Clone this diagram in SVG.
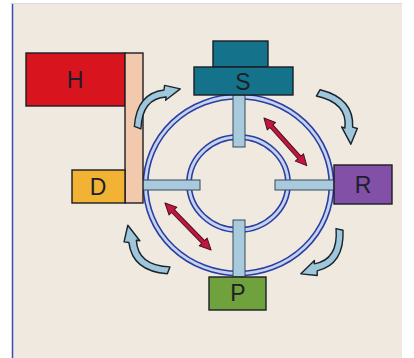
<svg xmlns="http://www.w3.org/2000/svg" xmlns:xlink="http://www.w3.org/1999/xlink" width="414" height="358" viewBox="0 0 414 358">
  <style>
    .box { stroke: #1c1c24; stroke-width: 1.4; }
    .lbl { font-family: "Liberation Sans", Arial, sans-serif; font-size: 23px; fill: #1e1e2a; text-anchor: middle; }
    .bar { fill: #a9cadc; stroke: #33485a; stroke-width: 1; }
    .ringDark { fill: none; stroke: #2c3ea0; stroke-width: 6; }
    .ringLight { fill: none; stroke: #c4d4f0; stroke-width: 2.8; }
    .turn { fill: #9fc6da; stroke: #18242e; stroke-width: 1.5; stroke-linejoin: round; }
    .push { fill: #c3163e; stroke: #4a1020; stroke-width: 1; stroke-linejoin: round; }
  </style>
  <defs>
    <!-- curved flow arrow: tail at origin, tip at (64,0), bowing toward -y -->
    <path id="turnArrow" class="turn" d="M 0,-4 Q 28,-27 51,-8 L 55,-11 L 64,4 L 44,1 L 47,-1 Q 28,-19 3,3 Z"/>
    <!-- straight double-headed arrow along +x -->
    <path id="pushArrow" class="push" d="M 0,0 L 11,-5.5 L 11,-2 L 53,-2 L 53,-5.5 L 64,0 L 53,5.5 L 53,2 L 11,2 L 11,5.5 Z"/>
  </defs>

  <!-- backdrop -->
  <rect x="0" y="0" width="414" height="358" fill="#ffffff"/>
  <rect x="12" y="3" width="390" height="355" fill="#efe9df"/>
  <line x1="12.5" y1="3" x2="12.5" y2="358" stroke="#3a4cb8" stroke-width="1.5"/>
  <line x1="12" y1="3.5" x2="402" y2="3.5" stroke="#d8d8e4" stroke-width="1"/>

  <!-- rings -->
  <g id="rings">
    <ellipse cx="238.5" cy="185" rx="93" ry="88.5" class="ringDark"/>
    <ellipse cx="238.5" cy="185" rx="93" ry="88.5" class="ringLight"/>
    <ellipse cx="238.5" cy="183.5" rx="49.5" ry="46.5" class="ringDark"/>
    <ellipse cx="238.5" cy="183.5" rx="49.5" ry="46.5" class="ringLight"/>
  </g>

  <!-- spokes -->
  <g id="spokes">
    <rect class="bar" x="233" y="95" width="12" height="52"/>
    <rect class="bar" x="233" y="220" width="12" height="57"/>
    <rect class="bar" x="141" y="180" width="59" height="10"/>
    <rect class="bar" x="275" y="180" width="59" height="10"/>
  </g>

  <g id="node-H">
    <rect class="box" x="26" y="53" width="99" height="53" fill="#d8141e"/>
    <text class="lbl" x="75" y="88">H</text>
  </g>
  <g id="node-column">
    <rect class="box" x="125" y="53" width="18" height="150" fill="#f2c9ad"/>
  </g>
  <g id="node-D">
    <rect class="box" x="72" y="170" width="53" height="33" fill="#f2b234"/>
    <text class="lbl" x="98" y="195">D</text>
  </g>
  <g id="node-S">
    <rect class="box" x="213" y="41" width="55" height="26" fill="#14738b"/>
    <rect class="box" x="194" y="67" width="99" height="28" fill="#14738b"/>
    <text class="lbl" x="243" y="90" fill="#142838">S</text>
  </g>
  <g id="node-R">
    <rect class="box" x="334" y="165" width="58" height="39" fill="#8350a8"/>
    <text class="lbl" x="363" y="193">R</text>
  </g>
  <g id="node-P">
    <rect class="box" x="209" y="277" width="57" height="33" fill="#6fa23c"/>
    <text class="lbl" x="238" y="301">P</text>
  </g>

  <!-- connectors -->
  <g id="connectors">
    <use xlink:href="#turnArrow" transform="translate(137,129) rotate(-46.4) scale(0.92)"/>
    <use xlink:href="#turnArrow" transform="translate(317,92) rotate(53.5) scale(0.97)"/>
    <use xlink:href="#turnArrow" transform="translate(340,228) rotate(126.9) scale(0.94)"/>
    <use xlink:href="#turnArrow" transform="translate(170,271) rotate(223.7) scale(0.97)"/>
    <use xlink:href="#pushArrow" transform="translate(264,118) rotate(48.1)"/>
    <use xlink:href="#pushArrow" transform="translate(165,203) rotate(45.6) scale(1.03,1)"/>
  </g>
</svg>
